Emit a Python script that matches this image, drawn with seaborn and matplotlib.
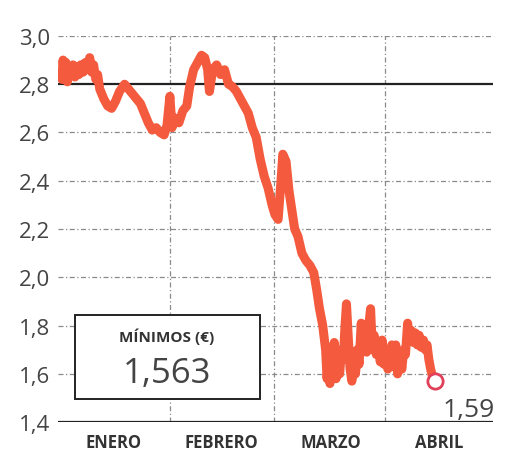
import matplotlib
matplotlib.use("Agg")
import matplotlib.pyplot as plt
import seaborn as sns
import pandas as pd

# día del año 2020 (1 = 1 de enero) y precio de la acción
dias = [1.1, 1.4, 1.8, 2.2, 2.6, 3.1, 3.6, 4.2, 4.7, 5.2, 5.8, 6.3, 7.0, 7.6,
        8.3, 8.8, 9.4, 9.9, 10.5, 11.0, 11.6,
        12.7, 13.8, 14.9, 16.0, 17.1, 18.5, 19.6, 20.7, 21.8, 22.9, 24.0, 25.1,
        26.2, 27.3, 28.4, 29.5, 30.3, 31.1, 31.7, 32.5, 33.6, 34.7, 35.8, 36.6,
        37.7, 38.8, 39.9, 40.8, 41.6, 42.1, 43.0, 44.1, 45.2, 46.3, 47.4, 48.5,
        49.6, 50.7, 51.8, 52.9, 54.0, 55.1, 56.2, 57.3, 58.4, 59.5, 60.3, 61.2,
        62.0, 62.5, 63.4, 64.2, 65.0, 65.8, 66.7, 67.8, 68.9, 70.0, 71.1, 71.9,
        72.7, 73.6, 74.4, 74.8, 75.2, 75.6, 76.0, 76.4, 76.8, 77.3, 77.8, 78.3,
        78.8, 79.3, 79.8, 80.2, 80.7, 81.2, 81.7, 82.2, 82.7, 83.2, 83.7, 84.3,
        84.8, 85.3, 85.8, 86.4, 86.9, 87.4, 87.9, 88.5, 89.0, 89.6, 90.1, 90.6,
        91.2, 91.7, 92.3, 92.8, 93.3, 93.9, 94.4, 95.0, 95.6, 96.1, 96.6, 97.2,
        97.7, 98.2, 98.8, 99.3, 99.9, 100.4, 101.0, 101.6, 102.1, 102.6, 103.1,
        103.6, 104.1, 104.7]
precios = [2.82, 2.90, 2.82, 2.89, 2.81, 2.87, 2.84, 2.88, 2.83, 2.87, 2.84, 2.88,
           2.85, 2.89, 2.86, 2.91, 2.85, 2.88, 2.82, 2.84, 2.78,
           2.74, 2.71, 2.70, 2.73, 2.77, 2.80, 2.78, 2.76, 2.74, 2.72,
           2.68, 2.64, 2.61, 2.62, 2.60, 2.59, 2.63, 2.75, 2.62, 2.66, 2.64, 2.69,
           2.71, 2.79, 2.86, 2.89, 2.92, 2.91, 2.86, 2.77, 2.86, 2.88, 2.84, 2.86,
           2.80, 2.79, 2.77, 2.74, 2.71, 2.68, 2.62, 2.58, 2.49, 2.42, 2.37, 2.30,
           2.26, 2.24, 2.40, 2.51, 2.48, 2.36, 2.28, 2.20, 2.17, 2.10, 2.07, 2.05,
           2.02, 1.95, 1.87, 1.80, 1.70, 1.58, 1.66, 1.56, 1.70, 1.60, 1.73, 1.58,
           1.66, 1.60, 1.70, 1.66, 1.80, 1.89, 1.75, 1.62, 1.57, 1.66, 1.60, 1.70,
           1.64, 1.81, 1.70, 1.76, 1.69, 1.80, 1.87, 1.70, 1.76, 1.68, 1.72, 1.65,
           1.74, 1.64, 1.70, 1.62, 1.68, 1.72, 1.63, 1.72, 1.60, 1.66, 1.62, 1.70,
           1.68, 1.81, 1.74, 1.78, 1.73, 1.77, 1.72, 1.76, 1.71, 1.74, 1.70, 1.72,
           1.66, 1.62, 1.59, 1.57]

meses = ["ENERO", "FEBRERO", "MARZO", "ABRIL"]
centros_mes = [15.5, 45.5, 76, 106]
limites_mes = [31, 60, 91]
yticks = [1.4, 1.6, 1.8, 2.0, 2.2, 2.4, 2.6, 2.8, 3.0]
minimo = "1,563"
ultimo = "1,59"

df = pd.DataFrame({"dia": dias, "precio": precios})

sns.set_style("white")
plt.rcParams["font.family"] = ["Open Sans", "DejaVu Sans"]

fig = plt.figure(figsize=(5.09, 4.56), dpi=100)
ax = fig.add_axes([0.114, 0.072, 0.855, 0.847])

grid = dict(color="#8a8a8a", lw=0.9, ls=(0, (4, 2, 1, 2)), zorder=1)
for y in yticks[1:]:
    if y != 2.8:
        ax.axhline(y, **grid)
for x in limites_mes:
    ax.axvline(x, **grid)
ax.axhline(2.8, color="#222222", lw=1.6, zorder=2)
ax.axhline(1.4, color="#222222", lw=1.6, zorder=2)

sns.lineplot(data=df, x="dia", y="precio", ax=ax, color="#F45B3E", lw=6.5,
             solid_joinstyle="round", solid_capstyle="round", zorder=3)
ax.plot(dias[-1], precios[-1], "o", ms=11, mfc="white", mec="#E0405A", mew=2, zorder=4)
ax.text(107, 1.425, ultimo, fontsize=19, color="#444444", ha="left", va="baseline")

ax.set_xlim(0, 121)
ax.set_ylim(1.4, 3.0)
ax.set_yticks(yticks)
ax.set_yticklabels([f"{v:.1f}".replace(".", ",") for v in yticks],
                   fontsize=16, color="#444444")
ax.set_xticks(centros_mes)
ax.set_xticklabels(meses, fontsize=12, fontweight="bold", color="#333333")
ax.tick_params(length=0, pad=8)
ax.tick_params(axis="y", pad=6)
ax.set_xlabel("")
ax.set_ylabel("")
for s in ax.spines.values():
    s.set_visible(False)

# recuadro de mínimos
caja = plt.Rectangle((0.038, 0.06), 0.425, 0.218, transform=ax.transAxes,
                     facecolor="white", edgecolor="#222222", lw=1.4, zorder=5)
ax.add_patch(caja)
ax.text(0.25, 0.225, "MÍNIMOS (€)", transform=ax.transAxes, fontsize=11,
        fontweight="bold", color="#333333", ha="center", va="center", zorder=6)
ax.text(0.25, 0.128, minimo, transform=ax.transAxes, fontsize=25,
        color="#444444", ha="center", va="center", zorder=6)

fig.savefig("out.png", dpi=100)
